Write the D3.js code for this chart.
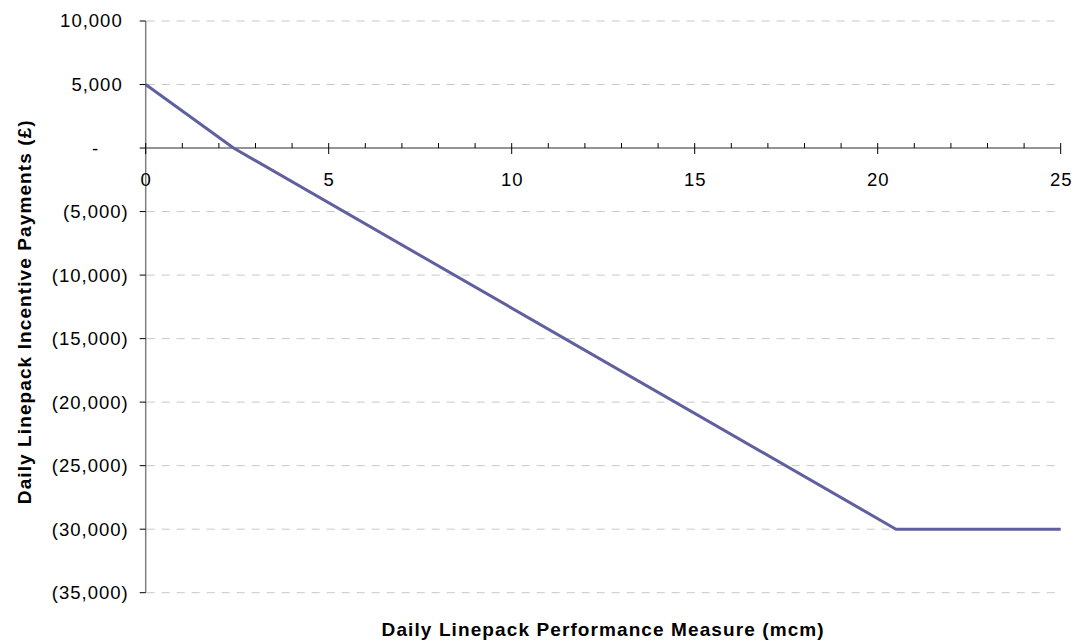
<!DOCTYPE html>
<html>
<head>
<meta charset="utf-8">
<script src="https://cdn.jsdelivr.net/npm/d3@7"></script>
<style>
  html, body { margin: 0; padding: 0; background: #fff; }
  svg { display: block; font-family: "Liberation Sans", Arial, sans-serif; }
</style>
</head>
<body>
<svg id="chart" width="1077" height="643"></svg>
<script>
// ===== DATA =====
const perfMeasure = [0, 2.4, 20.5, 25];            // mcm
const incentive = [5000, 0, -30000, -30000];       // £
const yTicks = [10000, 5000, 0, -5000, -10000, -15000, -20000, -25000, -30000, -35000];
const xTicks = [0, 5, 10, 15, 20, 25];
const xTitle = "Daily Linepack Performance Measure (mcm)";
const yTitle = "Daily Linepack Incentive Payments (£)";

// ===== LAYOUT =====
const svg = d3.select("#chart");
const plotLeft = 145.7, plotRight = 1060.7, plotTop = 21, plotBottom = 592.7;

const x = d3.scaleLinear().domain([0, 25]).range([plotLeft, plotRight]);
const y = d3.scaleLinear().domain([-35000, 10000]).range([plotBottom, plotTop]);

const fmt = d3.format(",");
function tickText(v) {
  if (v === 0) return "-";
  return v < 0 ? `(${fmt(-v)})` : fmt(v);
}

// gridlines (not at zero, the x axis sits there)
svg.append("g")
  .selectAll("line")
  .data(yTicks.filter(d => d !== 0))
  .join("line")
  .attr("x1", plotLeft + 1)
  .attr("x2", plotRight)
  .attr("y1", d => y(d))
  .attr("y2", d => y(d))
  .attr("stroke", "#c8c8c8")
  .attr("stroke-width", 1)
  .attr("stroke-dasharray", "8,7");

// y axis
svg.append("line")
  .attr("x1", plotLeft).attr("x2", plotLeft)
  .attr("y1", plotTop).attr("y2", plotBottom)
  .attr("stroke", "#808080")
  .attr("stroke-width", 1.5);

svg.append("g")
  .selectAll("line")
  .data(yTicks)
  .join("line")
  .attr("x1", plotLeft - 6)
  .attr("x2", plotLeft)
  .attr("y1", d => y(d))
  .attr("y2", d => y(d))
  .attr("stroke", "#000");

svg.append("g")
  .selectAll("text")
  .data(yTicks)
  .join("text")
  .attr("x", d => d === 0 ? plotLeft - 50 : d > 0 ? plotLeft - 23 : plotLeft - 17)
  .attr("y", d => y(d))
  .attr("dy", "0.35em")
  .attr("text-anchor", d => d === 0 ? "middle" : "end")
  .attr("font-size", "18.5px")
  .attr("letter-spacing", "1px")
  .attr("fill", "#000")
  .text(tickText);

// x axis at zero
const y0 = y(0);
svg.append("line")
  .attr("x1", plotLeft).attr("x2", plotRight)
  .attr("y1", y0).attr("y2", y0)
  .attr("stroke", "#707070")
  .attr("stroke-width", 1.5);

const minorTicks = d3.range(0, 26).filter(d => d % 5 !== 0);
svg.append("g")
  .selectAll("line")
  .data(minorTicks)
  .join("line")
  .attr("x1", d => x(d)).attr("x2", d => x(d))
  .attr("y1", y0 - 5).attr("y2", y0)
  .attr("stroke", "#000");

svg.append("g")
  .selectAll("line")
  .data(xTicks)
  .join("line")
  .attr("x1", d => x(d)).attr("x2", d => x(d))
  .attr("y1", y0 - 5).attr("y2", y0 + 6)
  .attr("stroke", "#000");

svg.append("g")
  .selectAll("text")
  .data(xTicks)
  .join("text")
  .attr("x", d => x(d) + 0.5)
  .attr("y", y0 + 38)
  .attr("text-anchor", "middle")
  .attr("font-size", "18.5px")
  .attr("letter-spacing", "1px")
  .attr("fill", "#000")
  .text(d => d);

// series line
const line = d3.line()
  .x((d, i) => x(perfMeasure[i]))
  .y(d => y(d));

svg.append("path")
  .attr("d", line(incentive))
  .attr("fill", "none")
  .attr("stroke", "#6060a0")
  .attr("stroke-width", 3)
  .attr("stroke-linejoin", "round");

// axis titles
svg.append("text")
  .attr("x", (plotLeft + plotRight) / 2)
  .attr("y", 636)
  .attr("text-anchor", "middle")
  .attr("font-size", "19px")
  .attr("font-weight", "bold")
  .attr("letter-spacing", "1.1px")
  .text(xTitle);

svg.append("text")
  .attr("transform", `translate(31,311.7) rotate(-90)`)
  .attr("text-anchor", "middle")
  .attr("font-size", "19px")
  .attr("font-weight", "bold")
  .attr("letter-spacing", "1.1px")
  .text(yTitle);
</script>
</body>
</html>
